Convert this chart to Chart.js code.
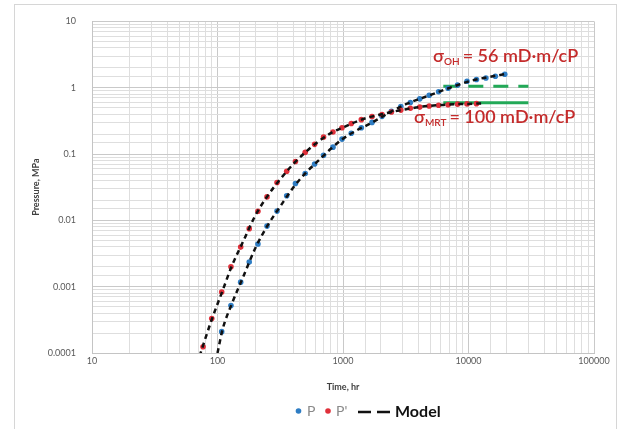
<!DOCTYPE html>
<html>
<head>
<meta charset="utf-8">
<script src="https://cdn.jsdelivr.net/npm/chart.js@4.4.1/dist/chart.umd.min.js"></script>
<style>
  html, body { margin: 0; padding: 0; background: #ffffff; }
  #wrap { width: 620px; height: 429px; position: relative; }
</style>
</head>
<body>
<div id="wrap"><canvas id="c" width="620" height="429"></canvas></div>
<script>
// ---- measured data ----
// derivative P' (red points)
const timeDeriv = [76.7, 90, 108, 128, 153, 179, 210, 248, 298, 356, 418, 500, 594, 700, 832, 982,
  1164, 1400, 1703, 2046, 2430, 2890, 3440, 4090, 4860, 5780, 6880, 8180, 9730, 11570];
const pDeriv = [1.24e-4, 3.3e-4, 8.3e-4, 2.0e-3, 3.95e-3, 7.5e-3, 0.0137, 0.0226, 0.0372, 0.055, 0.077,
  0.106, 0.140, 0.180, 0.215, 0.249, 0.288, 0.330, 0.368, 0.395, 0.43, 0.46, 0.49, 0.51, 0.53, 0.545,
  0.555, 0.565, 0.57, 0.575];

// pressure P (blue points)
const timePress = [108, 128, 153, 179, 210, 248, 298, 356, 418, 500, 594, 700, 832, 982, 1164, 1400,
  1703, 2046, 2430, 2890, 3440, 4090, 4860, 5780, 6880, 8180, 9730, 11570, 13760, 16360, 19450];
const pPress = [2.1e-4, 5.2e-4, 1.17e-3, 2.35e-3, 4.4e-3, 8.2e-3, 0.0138, 0.0235, 0.036, 0.051, 0.0706,
  0.096, 0.127, 0.168, 0.206, 0.249, 0.30, 0.37, 0.44, 0.52, 0.60, 0.68, 0.77, 0.87, 0.98, 1.10, 1.25,
  1.33, 1.40, 1.49, 1.60];

// model curves
const timeModelDeriv = [72, 90, 110, 130, 160, 200, 250, 320, 400, 500, 630, 800, 1000, 1300, 1600, 2000,
  2500, 3200, 4000, 5000, 6300, 8000, 10000, 12600];
const modelDeriv = [9e-5, 3.2e-4, 8.8e-4, 2.05e-3, 4.8e-3, 0.0118, 0.0232, 0.043, 0.070, 0.106, 0.152,
  0.207, 0.252, 0.312, 0.357, 0.395, 0.435, 0.475, 0.51, 0.535, 0.55, 0.565, 0.57, 0.58];

const timeModelPress = [100, 110, 130, 160, 200, 250, 320, 400, 500, 630, 800, 1000, 1300, 1600, 2000,
  2500, 3200, 4000, 5000, 6300, 8000, 10000, 12600, 16000, 20000];
const modelPress = [1.0e-4, 2.3e-4, 5.5e-4, 1.4e-3, 3.8e-3, 8.3e-3, 0.0168, 0.031, 0.051, 0.078, 0.12,
  0.17, 0.23, 0.28, 0.355, 0.45, 0.57, 0.67, 0.78, 0.92, 1.08, 1.24, 1.38, 1.5, 1.62];

// mobility levels (green)
const levelTime = [6300, 30000];
const levelOH = [1.05, 1.05];
const levelMRT = [0.596, 0.596];

// axes
const xTickLabels = ['10', '100', '1000', '10000', '100000'];
const yTickLabels = ['0.0001', '0.001', '0.01', '0.1', '1', '10'];

const FONT = "Lato, 'Open Sans', sans-serif";
const BLUE = '#2e7dc4';
const RED = '#e0303a';
const GREEN = '#22a957';
const TEXT_RED = '#c42b2b';

const pts = (xs, ys) => xs.map((x, i) => ({ x: x, y: ys[i] }));
const labelFor = (list, v) => {
  const hit = list.find(s => Math.abs(Math.log10(Number(s)) - Math.log10(v)) < 1e-6);
  return hit === undefined ? '' : hit;
};
const isDecade = v => Math.abs(Math.log10(v) - Math.round(Math.log10(v))) < 1e-6;
const gridColor = c => (c.tick && isDecade(c.tick.value)) ? '#c9c9c9' : '#dedede';

// frame around the whole figure
const framePlugin = {
  id: 'frame',
  beforeDraw(chart) {
    const ctx = chart.ctx;
    ctx.save();
    ctx.fillStyle = '#ffffff';
    ctx.fillRect(0, 0, chart.width, chart.height);
    ctx.strokeStyle = '#d6d6d6';
    ctx.lineWidth = 1;
    ctx.strokeRect(14.5, 4.5, 602, 440);
    ctx.restore();
  }
};

// sigma annotations and bottom legend
function drawSigma(ctx, x, y, sub, rest) {
  ctx.font = `600 18px ${FONT}`;
  ctx.fillText('σ', x, y);
  x += ctx.measureText('σ').width;
  ctx.font = `600 10px ${FONT}`;
  ctx.fillText(sub, x, y + 3);
  x += ctx.measureText(sub).width + 3;
  ctx.font = `600 18px ${FONT}`;
  ctx.fillText(rest, x, y);
}

const overlayPlugin = {
  id: 'overlay',
  afterDraw(chart) {
    const ctx = chart.ctx;
    ctx.save();
    ctx.fillStyle = TEXT_RED;
    ctx.textBaseline = 'alphabetic';
    drawSigma(ctx, 433, 62, 'OH', '= 56 mD·m/cP');
    drawSigma(ctx, 414, 123, 'MRT', '= 100 mD·m/cP');

    // legend
    const ly = 411;
    ctx.textBaseline = 'middle';
    ctx.fillStyle = BLUE;
    ctx.beginPath(); ctx.arc(298.5, ly, 2.8, 0, Math.PI * 2); ctx.fill();
    ctx.fillStyle = '#8a8a8a';
    ctx.font = `14px ${FONT}`;
    ctx.fillText(chart.data.datasets[1].label, 307, ly);
    ctx.fillStyle = RED;
    ctx.beginPath(); ctx.arc(328, ly, 2.8, 0, Math.PI * 2); ctx.fill();
    ctx.fillStyle = '#8a8a8a';
    ctx.fillText(chart.data.datasets[0].label, 336, ly);
    ctx.strokeStyle = '#111111';
    ctx.lineWidth = 2.5;
    ctx.setLineDash([13, 6]);
    ctx.beginPath(); ctx.moveTo(358, ly + 1); ctx.lineTo(390, ly + 1); ctx.stroke();
    ctx.setLineDash([]);
    ctx.fillStyle = '#111111';
    ctx.font = `bold 16px ${FONT}`;
    ctx.fillText('Model', 395, ly + 1);
    ctx.restore();
  }
};

const modelStyle = {
  showLine: true, pointRadius: 0, borderColor: '#111111', borderWidth: 2.5,
  borderDash: [5, 4], cubicInterpolationMode: 'monotone', fill: false, order: 0
};

new Chart(document.getElementById('c'), {
  type: 'scatter',
  data: {
    datasets: [
      { label: "P'", data: pts(timeDeriv, pDeriv), pointRadius: 2.8, pointBackgroundColor: RED,
        pointBorderWidth: 0, showLine: false, order: 1 },
      { label: 'P', data: pts(timePress, pPress), pointRadius: 2.8, pointBackgroundColor: BLUE,
        pointBorderWidth: 0, showLine: false, order: 1 },
      Object.assign({ label: 'Model', data: pts(timeModelDeriv, modelDeriv) }, modelStyle),
      Object.assign({ label: 'Model P', data: pts(timeModelPress, modelPress) }, modelStyle),
      { label: 'OH', data: pts(levelTime, levelOH), showLine: true, pointRadius: 0,
        borderColor: GREEN, borderWidth: 3, borderDash: [15, 10], order: 2 },
      { label: 'MRT', data: pts(levelTime, levelMRT), showLine: true, pointRadius: 0,
        borderColor: GREEN, borderWidth: 3, order: 2 }
    ]
  },
  options: {
    responsive: false,
    animation: false,
    devicePixelRatio: 1,
    layout: { padding: { left: 15, right: 26, top: 14, bottom: 36 } },
    plugins: { legend: { display: false }, tooltip: { enabled: false } },
    scales: {
      x: {
        type: 'logarithmic', min: 10, max: 100000, position: 'bottom',
        grid: { color: gridColor, lineWidth: 1, drawTicks: false },
        border: { color: '#c4c4c4' },
        ticks: {
          autoSkip: false, maxRotation: 0, padding: 3, color: '#595959',
          font: { family: FONT, size: 9 },
          callback: v => labelFor(xTickLabels, v)
        },
        title: { display: true, text: 'Time, hr', color: '#404040',
          font: { family: FONT, size: 9, weight: 'bold' }, padding: { top: 0, bottom: 1 } },
        afterFit: s => { s.height = 40; }
      },
      y: {
        type: 'logarithmic', min: 0.0001, max: 10,
        grid: { color: gridColor, lineWidth: 1, drawTicks: false },
        border: { color: '#c4c4c4' },
        ticks: {
          autoSkip: false, padding: 16, color: '#595959',
          font: { family: FONT, size: 9 },
          callback: v => labelFor(yTickLabels, v)
        },
        title: { display: true, text: 'Pressure, MPa', color: '#404040',
          font: { family: FONT, size: 9, weight: 'bold' }, padding: { top: 16, bottom: 0 } },
        afterFit: s => { s.width = 77; }
      }
    }
  },
  plugins: [framePlugin, overlayPlugin]
});
</script>
</body>
</html>
